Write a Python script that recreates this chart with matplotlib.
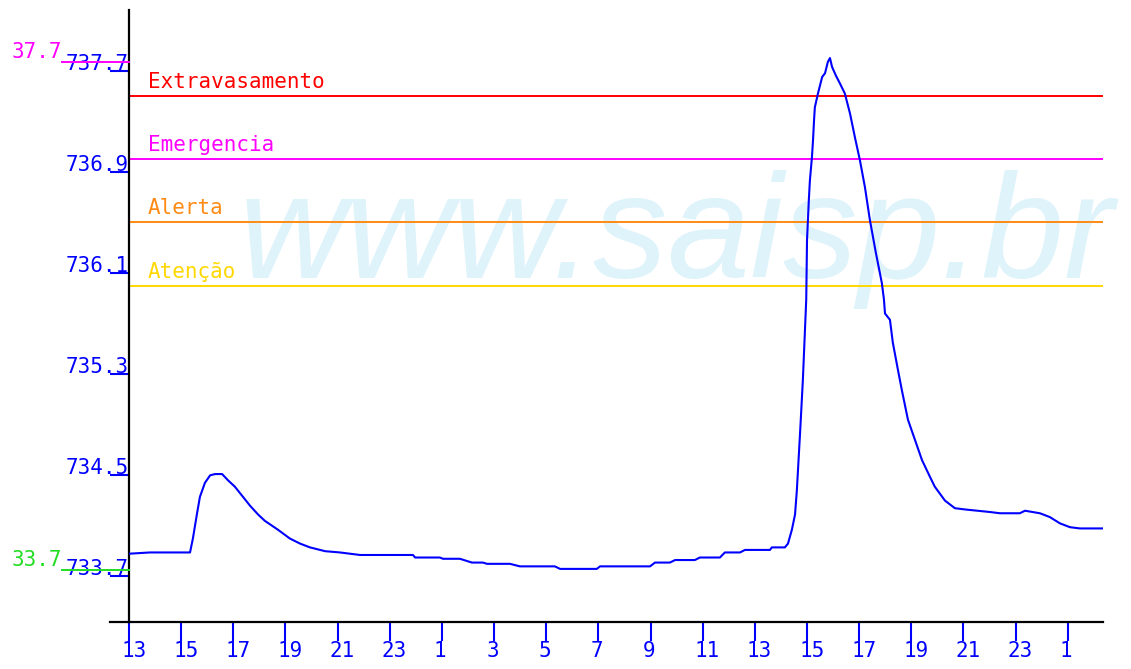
import numpy as np
import matplotlib
matplotlib.use('Agg')
import matplotlib.pyplot as plt
import matplotlib.transforms as mtransforms

# Hours since 13:00 of the first day, and water level (m)
hours = [0.00, 0.80, 2.34, 2.45, 2.61, 2.72, 2.91, 3.11, 3.30, 3.57, 3.80, 4.06,
         4.37, 4.64, 4.95, 5.21, 5.71, 6.17, 6.56, 6.94, 7.52, 8.09, 8.86, 10.89,
         10.97, 11.92, 12.04, 12.69, 13.15, 13.57, 13.73, 14.61, 14.99, 16.33,
         16.53, 17.94, 18.06, 19.98, 20.17, 20.74, 20.94, 21.70, 21.89, 22.66,
         22.85, 23.43, 23.62, 24.58, 24.65, 25.15, 25.27, 25.42, 25.54, 25.61,
         25.74, 25.84, 25.97, 26.00, 26.07, 26.11, 26.19, 26.23, 26.27, 26.30,
         26.42, 26.58, 26.69, 26.80, 26.88, 26.96, 27.11, 27.26, 27.45, 27.65,
         27.84, 28.03, 28.22, 28.41, 28.64, 28.87, 28.95, 28.99, 29.18, 29.29,
         29.49, 29.64, 29.87, 30.14, 30.41, 30.71, 30.90, 31.29, 31.67, 32.06,
         33.01, 33.40, 34.16, 34.36, 34.93, 35.31, 35.70, 36.08, 36.46, 37.35]
level = [733.88, 733.89, 733.89, 734.00, 734.20, 734.33, 734.44, 734.50, 734.51,
         734.51, 734.46, 734.41, 734.33, 734.26, 734.19, 734.14, 734.07, 734.00,
         733.96, 733.93, 733.90, 733.89, 733.87, 733.87, 733.85, 733.85, 733.84,
         733.84, 733.81, 733.81, 733.80, 733.80, 733.78, 733.78, 733.76, 733.76,
         733.78, 733.78, 733.81, 733.81, 733.83, 733.83, 733.85, 733.85, 733.89,
         733.89, 733.91, 733.91, 733.93, 733.93, 733.96, 734.07, 734.19, 734.38,
         734.86, 735.25, 735.89, 736.36, 736.68, 736.83, 737.02, 737.15, 737.31,
         737.41, 737.52, 737.65, 737.68, 737.77, 737.80, 737.73, 737.66, 737.60,
         737.52, 737.36, 737.17, 736.99, 736.78, 736.52, 736.26, 736.02, 735.89,
         735.78, 735.73, 735.55, 735.33, 735.17, 734.94, 734.78, 734.62, 734.49,
         734.41, 734.30, 734.24, 734.23, 734.21, 734.20, 734.20, 734.22, 734.20,
         734.17, 734.12, 734.09, 734.08, 734.08]

# Alert levels
limit_names = ['Extravasamento', 'Emergencia', 'Alerta', 'Atenção']
limit_values = [737.5, 737.0, 736.5, 736.0]
limit_colors = ['#ff0000', '#ff00ff', '#ff8a14', '#ffd800']

# Y ticks
ytick_values = [733.7, 734.5, 735.3, 736.1, 736.9, 737.7]
ytick_labels = ['733.7', '734.5', '735.3', '736.1', '736.9', '737.7']

# X ticks (every 2 hours)
xtick_values = list(range(0, 37, 2))
xtick_labels = ['13', '15', '17', '19', '21', '23', '1', '3', '5', '7', '9',
                '11', '13', '15', '17', '19', '21', '23', '1']

# max / min markers
max_label, max_value = '37.7', 737.77
min_label, min_value = '33.7', 733.75

mono = 'DejaVu Sans Mono'
fs = 15

fig = plt.figure(figsize=(11.31, 6.69), dpi=100)
ax = fig.add_axes([129 / 1131, 47 / 669, 974 / 1131, 612 / 669])
ax.set_xlim(0, 37.35)
ax.set_ylim(733.34, 738.18)

for s in ['top', 'right']:
    ax.spines[s].set_visible(False)
for s in ['left', 'bottom']:
    ax.spines[s].set_linewidth(1.6)
    ax.spines[s].set_color('black')
# bottom axis sticks out to the left
ax.plot([-19 / 974, 0], [0, 0], transform=ax.transAxes, color='black',
        lw=1.6, clip_on=False)

# watermark
ax.text(0.113, 0.562, 'www.saisp.br', transform=ax.transAxes,
        fontsize=107, family='Liberation Sans', style='italic',
        color='#dff3fb', ha='left', va='baseline', zorder=0)

# alert lines + labels
for name, val, col in zip(limit_names, limit_values, limit_colors):
    ax.axhline(val, color=col, lw=1.4, zorder=2)
    off = mtransforms.offset_copy(ax.get_yaxis_transform(), fig=fig, x=0, y=8, units='dots')
    ax.text(19 / 974, val, name, transform=off, color=col, fontsize=fs,
            family=mono, ha='left', va='baseline', zorder=3)

# series
ax.plot(hours, level, color='#0000ff', lw=1.5, zorder=4)

# ticks
ax.set_yticks(ytick_values)
ax.set_xticks(xtick_values)
ax.tick_params(axis='y', direction='out', length=14, width=1.5, color='#0000ff',
               labelleft=False)
ax.tick_params(axis='x', direction='out', length=14, width=1.5, color='#0000ff',
               labelbottom=False)

ylab_tr = mtransforms.offset_copy(ax.get_yaxis_transform(), fig=fig, x=0, y=1, units='dots')
for v, lab in zip(ytick_values, ytick_labels):
    ax.text(0, v, lab, transform=ylab_tr, color='#0000ff', fontsize=fs,
            family=mono, ha='right', va='baseline', clip_on=False)

xlab_tr = mtransforms.offset_copy(ax.get_xaxis_transform(), fig=fig, x=-8, y=-19, units='dots')
for v, lab in zip(xtick_values, xtick_labels):
    ax.text(v, 0, lab, transform=xlab_tr, color='#0000ff', fontsize=fs,
            family=mono, ha='left', va='top', clip_on=False)

# max / min markers on the left
for lab, val, col in [(max_label, max_value, '#ff00ff'), (min_label, min_value, '#22dd22')]:
    ax.plot([-67 / 974, 0], [val, val], transform=ax.get_yaxis_transform(),
            color=col, lw=1.4, clip_on=False, zorder=5)
    ax.text(-67 / 974, val, lab, transform=ax.get_yaxis_transform(), color=col,
            fontsize=fs, family=mono, ha='right', va='bottom', clip_on=False)

fig.savefig('out.png', dpi=100)
